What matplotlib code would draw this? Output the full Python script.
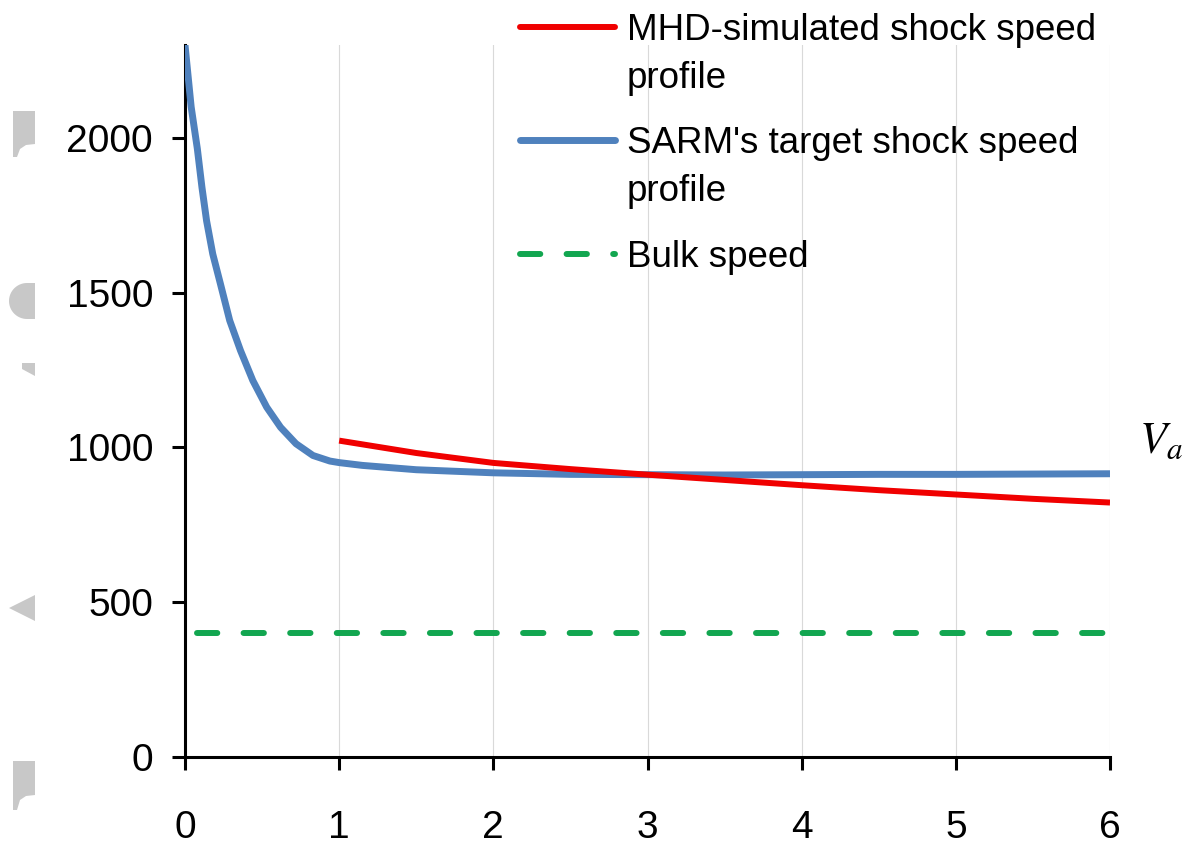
import matplotlib
matplotlib.use("Agg")
import matplotlib.pyplot as plt
import numpy as np
from matplotlib.lines import Line2D
from matplotlib.patches import Polygon

W, H = 1188, 846

# SARM's target shock speed profile
sarm_x = [0, 0.04, 0.08, 0.11, 0.14, 0.18, 0.23, 0.29, 0.36, 0.44, 0.53, 0.62,
          0.72, 0.83, 0.94, 1.0, 1.15, 1.5, 2.0, 2.5, 3.0, 3.5, 4.0, 4.5,
          5.0, 5.5, 6.0]
sarm_y = [2300, 2100, 1965, 1840, 1732, 1625, 1528, 1410, 1313, 1216, 1130, 1065,
          1012, 974, 956, 951, 942, 928, 918, 913, 912, 911, 912, 913,
          913, 914, 915]

# MHD-simulated shock speed profile
mhd_x = [1.0, 1.5, 2.0, 2.5, 3.0, 3.5, 4.0, 4.5, 5.0, 5.5, 6.0]
mhd_y = [1022, 982, 950, 930, 912, 895, 878, 862, 848, 834, 822]

# bulk speed
bulk_x = [0.08, 6.0]
bulk_y = [400, 400]

x_ticks = [0, 1, 2, 3, 4, 5, 6]
y_ticks = [0, 500, 1000, 1500, 2000]

labels = ["MHD-simulated shock speed\nprofile",
          "SARM's target shock speed\nprofile",
          "Bulk speed"]

red = "#F00000"
blue = "#4F81BD"
green = "#12A650"


def fx(px):
    return px / W


def fy(py):
    return 1 - py / H


plt.rcParams['font.family'] = ['Liberation Sans', 'DejaVu Sans']

fig = plt.figure(figsize=(W / 100, H / 100), dpi=100)
ax = fig.add_axes([fx(185), fy(757), (1110 - 185) / W, (757 - 45) / H])

ax.plot(sarm_x, sarm_y, color=blue, lw=5, solid_capstyle='butt',
        solid_joinstyle='round', zorder=3)
ax.plot(mhd_x, mhd_y, color=red, lw=4.3, solid_capstyle='butt', zorder=4)
ax.plot(bulk_x, bulk_y, color=green, lw=4.3, dashes=(3.4, 4.4),
        dash_capstyle='round', zorder=3)

ax.set_xlim(0, 6)
ax.set_ylim(0, 2300)
ax.set_xticks(x_ticks)
ax.set_yticks(y_ticks)
ax.xaxis.grid(True, color='#D9D9D9', lw=0.8)
ax.set_axisbelow(True)

for s in ['top', 'right']:
    ax.spines[s].set_visible(False)
for s in ['left', 'bottom']:
    ax.spines[s].set_linewidth(2.2)
    ax.spines[s].set_color('black')

ax.tick_params(axis='both', direction='out', length=9.5, width=2.2,
               labelsize=28, colors='black')
ax.tick_params(axis='y', pad=13.5)
ax.tick_params(axis='x', pad=29)

# legend drawn by hand: handle sits on the first text line
handles = [dict(color=red, lw=4.3, ls='-'),
           dict(color=blue, lw=5, ls='-'),
           dict(color=green, lw=4.3, dashes=(3.4, 4.4), dash_capstyle='round')]
baselines = [40, 153, 267]
for lab, hs, b in zip(labels, handles, baselines):
    fig.add_artist(Line2D([fx(520), fx(615)], [fy(b - 13), fy(b - 13)],
                          transform=fig.transFigure, solid_capstyle='round', **hs))
    for i, line in enumerate(lab.split("\n")):
        fig.text(fx(627), fy(b + 48 * i), line, fontsize=26.5,
                 ha='left', va='baseline')

fig.text(fx(1139), fy(453), r'$V_a$', fontsize=32, math_fontfamily='stix',
         ha='left', va='baseline')

# grey fragments cut off at the left edge
grey = '#C8C8C8'
frag = [
    [(13, 111), (35, 111), (35, 144), (26, 145), (20, 149), (17, 157), (13, 157)],
    [(13, 761), (35, 761), (35, 795), (26, 796), (20, 800), (17, 810), (13, 810)],
    [(22, 363), (35, 363), (35, 376), (22, 369)],
    [(9, 608), (35, 595), (35, 621)],
]
ang = np.linspace(np.pi / 2, 3 * np.pi / 2, 30)
frag.append([(35, 283)] + [(27 + 18 * np.cos(a), 301 - 18 * np.sin(a)) for a in ang]
            + [(35, 319)])
for pts in frag:
    fig.add_artist(Polygon([(fx(x), fy(y)) for x, y in pts], closed=True,
                           transform=fig.transFigure, color=grey, lw=0))

fig.savefig("out.png", dpi=100)
